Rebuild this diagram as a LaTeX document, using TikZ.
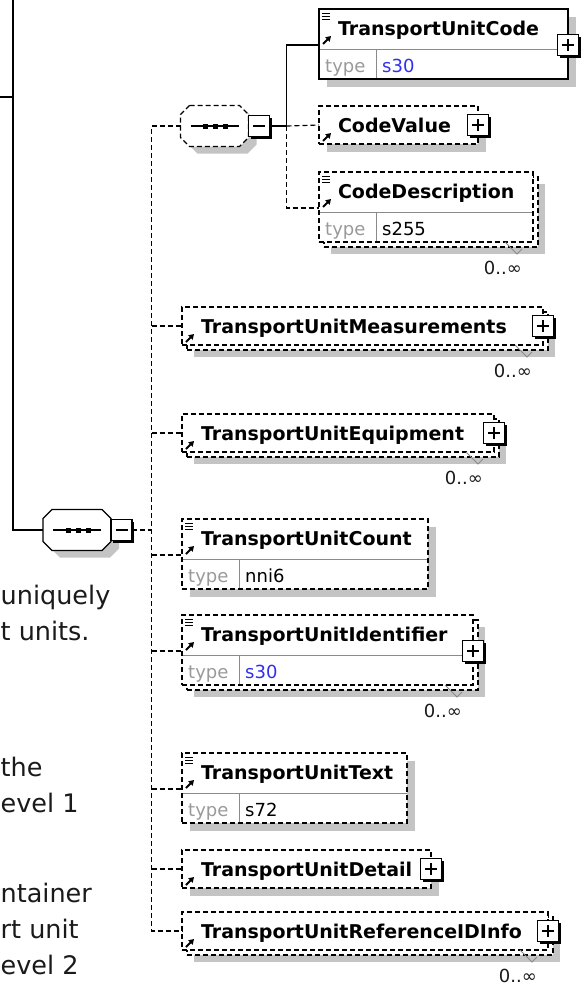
\documentclass[tikz,border=0pt]{standalone}
\usepackage{fontspec}
\setmainfont{DejaVu Sans}
\usepackage{tikz}
\usetikzlibrary{arrows.meta,positioning,backgrounds,shadows}
\definecolor{ink}{HTML}{000000}
\definecolor{shadowc}{HTML}{C4C4C4}
\definecolor{keygrey}{HTML}{9A9A9A}
\definecolor{rulegrey}{HTML}{8A8A8A}
\definecolor{tblue}{HTML}{2F2FEF}
\definecolor{txt}{HTML}{1A1A1A}
\newcommand\namefont{\fontsize{19pt}{22pt}\selectfont\bfseries}
\newcommand\rowfont{\fontsize{18pt}{21pt}\selectfont}
\newcommand\sidefont{\fontsize{25.5pt}{30pt}\selectfont}
\hyphenpenalty=10000
\tikzset{
  icon/.style={solid,line width=1.8pt,draw=ink,-{Triangle[length=5pt,width=6pt]}},
  rowrule/.style={solid,line width=1pt,draw=rulegrey},
  elem/.style={rectangle,fill=white,anchor=north west,inner xsep=19pt,inner ysep=0pt,outer sep=0pt,
    text height=26pt,text depth=12pt,align=left,font=\namefont,line width=1.2pt,
    path picture={\draw[icon] ([shift={(4pt,-35pt)}]path picture bounding box.north west) -- ++(8pt,8pt);}},
  typed/.style={text depth=44pt,
    path picture={
      \draw[icon] ([shift={(4pt,-35pt)}]path picture bounding box.north west) -- ++(8pt,8pt);
      \foreach \k in {4.5,7.5,10.5} \draw[solid,line width=0.8pt,draw=ink] ([shift={(3pt,-\k pt)}]path picture bounding box.north west) -- ++(8pt,0);
      \draw[rowrule] ([yshift=-40pt]path picture bounding box.north west) -- ([yshift=-40pt]path picture bounding box.north east);
      \draw[rowrule] ([shift={(57pt,-40pt)}]path picture bounding box.north west) -- ([xshift=57pt]path picture bounding box.south west);}},
  req/.style={draw=ink},
  opt/.style={draw=ink,dash pattern=on 5pt off 3pt},
  single/.style={drop shadow={shadow xshift=8pt,shadow yshift=-8pt,fill=shadowc,opacity=1}},
  multi/.style={drop shadow={shadow xshift=12pt,shadow yshift=-12pt,fill=shadowc,opacity=1},
    copy shadow={shadow xshift=5pt,shadow yshift=-5pt,fill=white,draw=ink,dash pattern=on 5pt off 3pt,line width=1.2pt}},
  pmbox/.style={draw=ink,fill=white,solid,line width=1.2pt,minimum size=21pt,inner sep=0pt,outer sep=0pt,
    drop shadow={shadow xshift=2pt,shadow yshift=-2pt,fill=ink,opacity=1}},
  plus/.style={path picture={\draw[solid,line width=1.2pt] ([xshift=-6pt]path picture bounding box.center) -- ([xshift=6pt]path picture bounding box.center) ([yshift=-6pt]path picture bounding box.center) -- ([yshift=6pt]path picture bounding box.center);}},
  minus/.style={path picture={\draw[solid,line width=1.2pt] ([xshift=-6pt]path picture bounding box.center) -- ([xshift=6pt]path picture bounding box.center);}},
  seqfit/.style={rectangle,minimum width=68pt,minimum height=41pt,inner sep=0pt,outer sep=0pt},
  octo/.style={fill=white,line width=1.2pt,drop shadow={shadow xshift=8pt,shadow yshift=-7pt,fill=shadowc,opacity=1}},
  seqdots/.style={solid,line width=1.2pt,draw=ink},
  reqline/.style={line width=1.2pt,draw=ink},
  optline/.style={line width=1.2pt,draw=ink,dash pattern=on 5pt off 3pt},
  keytxt/.style={font=\rowfont,text=keygrey,anchor=base west,inner sep=0pt},
  valtxt/.style={font=\rowfont,anchor=base west,inner sep=0pt},
  occ/.style={font=\rowfont,text=txt,anchor=base east,inner sep=0pt},
  tick/.style={line width=1pt,draw=rulegrey},
  side/.style={font=\sidefont,text=txt,anchor=base west,inner sep=0pt}
}
\begin{document}
\begin{tikzpicture}[x=1pt,y=-1pt]
  \path[use as bounding box,fill=white] (0,0) rectangle (581,988);
  \node[elem,typed,req,single,text width=211pt] (tuc) at (319,9) {TransportUnitCode};
  \node[elem,opt,single,text width=121pt] (cv) at (319,106) {CodeValue};
  \node[elem,typed,opt,multi,text width=176pt] (cd) at (319,172) {CodeDescription};
  \node[elem,opt,multi,text width=323pt] (tum) at (182,307) {TransportUnitMeasurements};
  \node[elem,opt,multi,text width=274pt] (tue) at (182,414) {TransportUnitEquipment};
  \node[elem,typed,opt,single,text width=208pt] (cnt) at (182,519) {TransportUnitCount};
  \node[elem,typed,opt,multi,text width=253pt] (tid) at (182,615) {TransportUnitIdentifier};
  \node[elem,typed,opt,single,text width=187pt] (ttx) at (182,753) {TransportUnitText};
  \node[elem,opt,single,text width=211pt] (tud) at (182,850) {TransportUnitDetail};
  \node[elem,opt,multi,text width=328pt] (tri) at (182,912) {TransportUnitReferenceIDInfo};
  \foreach \e/\v/\c in {tuc/s30/tblue,cd/s255/ink,cnt/nni6/ink,tid/s30/tblue,ttx/s72/ink}{
    \node[keytxt] (\e-k) at ([shift={(6pt,7pt)}]\e.south west) {type};
    \node[valtxt,text=\c] (\e-v) at ([shift={(63pt,7pt)}]\e.south west) {\v};
  }
  \foreach \e in {cd,tum,tue,tid,tri}{
    \draw[tick] ([xshift=-28pt]\e.south east) -- ++(12pt,-12pt) -- ++(5pt,5pt);
    \node[occ] (\e-o) at ([shift={(-11pt,-32pt)}]\e.south east) {0..∞};
  }
  \foreach \e in {tuc,cd,cnt,tid,ttx} \coordinate (\e-p) at ([yshift=-36pt]\e.north west);
  \foreach \e in {cv,tum,tue,tud,tri} \coordinate (\e-p) at (\e.west);
  \node[seqfit] (seqA) at (214.5,126) {};
  \node[seqfit] (seqB) at (77,530) {};
  \foreach \s/\l in {seqA/opt,seqB/req}{
    \draw[octo,\l] ([xshift=9pt]\s.north west) -- ([xshift=-9pt]\s.north east) -- ([yshift=-9pt]\s.north east)
      -- ([yshift=9pt]\s.south east) -- ([xshift=-9pt]\s.south east) -- ([xshift=9pt]\s.south west)
      -- ([yshift=9pt]\s.south west) -- ([yshift=-9pt]\s.north west) -- cycle;
    \draw[seqdots] ([xshift=-24pt]\s.center) -- ([xshift=24pt]\s.center);
    \foreach \q in {-9,1,11} \fill[ink] ([xshift=\q pt]\s.center) +(-2.5pt,-2.5pt) rectangle +(2.5pt,2.5pt);
  }
  \node[pmbox,minus,right=0pt of seqA] (seqA-m) {};
  \node[pmbox,minus,right=0pt of seqB] (seqB-m) {};
  \coordinate (topin) at (13,0);
  \coordinate (leftin) at (0,97);
  \draw[reqline] (leftin) -- (topin |- leftin);
  \draw[reqline] (topin) |- (seqB.west);
  \draw[optline] (seqA.west) -- ++(-29pt,0) coordinate (trk) |- (tri-p);
  \draw[optline] (seqB-m.east) -- (trk |- seqB-m.east);
  \foreach \e in {tum,tue,cnt,tid,ttx,tud} \draw[optline] (trk |- \e-p) -- (\e-p);
  \draw[reqline] (seqA-m.east) -- ++(17pt,0) coordinate (fork) |- (tuc-p);
  \draw[optline] (fork) -- (cv-p);
  \draw[optline] (fork) |- (cd-p);
  \foreach \e in {tuc,cv,tum,tue,tid,tud,tri} \node[pmbox,plus] (\e-x) at (\e.east |- \e-p) {};
  \node[side] (lt1) at (0.5,604) {uniquely};
  \node[side] (lt2) at (0.5,640) {t units.};
  \node[side] (lt3) at (0.5,776) {the};
  \node[side] (lt4) at (0.5,812) {evel 1};
  \node[side] (lt5) at (0.5,902) {ntainer};
  \node[side] (lt6) at (0.5,938) {rt unit};
  \node[side] (lt7) at (0.5,974) {evel 2};
\end{tikzpicture}
\end{document}
